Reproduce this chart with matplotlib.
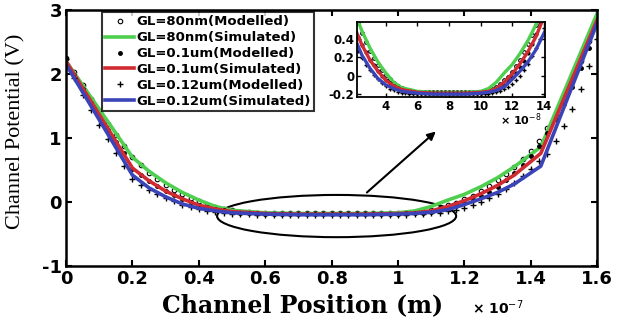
''' CHANNEL POTENTIAL vs CHANNEL POSITION '''

import numpy as np
import matplotlib
matplotlib.use("Agg")
import matplotlib.pyplot as plt
from matplotlib.patches import Ellipse
from matplotlib.font_manager import FontProperties

plt.rcParams['axes.unicode_minus'] = False

# simulated curves (x in 1e-7 m)
x_sim = [0, 0.2, 0.25, 0.3, 0.35, 0.4, 0.45, 0.5, 0.6, 0.7, 0.8, 0.9,
         1.0, 1.05, 1.1, 1.15, 1.2, 1.25, 1.3, 1.35, 1.43, 1.6]
sim_80nm = [2.2, 0.70, 0.48, 0.30, 0.15, 0.03, -0.07, -0.13, -0.17, -0.18, -0.18, -0.18,
            -0.17, -0.14, -0.07, 0.03, 0.12, 0.24, 0.38, 0.55, 0.86, 2.95]
sim_100nm = [2.2, 0.53, 0.33, 0.17, 0.05, -0.05, -0.11, -0.15, -0.18, -0.19, -0.19, -0.19,
             -0.18, -0.17, -0.14, -0.07, 0.02, 0.13, 0.26, 0.42, 0.76, 2.85]
sim_120nm = [2.15, 0.42, 0.22, 0.08, -0.03, -0.10, -0.14, -0.17, -0.19, -0.20, -0.20, -0.20,
             -0.19, -0.18, -0.16, -0.12, -0.04, 0.05, 0.15, 0.28, 0.56, 2.8]

# modelled curves, sampled every 0.025e-7 m
x_mod = np.linspace(0, 1.6, 65)
mod_80nm = ([2.25, 2.03, 1.82, 1.61, 1.41, 1.22, 1.04, 0.87, 0.70, 0.57, 0.46, 0.36, 0.27,
             0.19, 0.12, 0.06, 0.01, -0.04, -0.08, -0.11, -0.13, -0.15, -0.16, -0.17, -0.175]
            + [-0.18] * 15
            + [-0.175, -0.17, -0.16, -0.145, -0.12, -0.09, -0.05, -0.01, 0.04, 0.10, 0.17, 0.25,
               0.34, 0.44, 0.55, 0.67, 0.80, 0.96, 1.15, 1.37, 1.62, 1.90, 2.20, 2.52, 2.88])
mod_100nm = ([2.24, 1.99, 1.76, 1.54, 1.33, 1.13, 0.94, 0.76, 0.52, 0.42, 0.33, 0.25, 0.17,
              0.11, 0.05, 0.0, -0.05, -0.08, -0.11, -0.13, -0.15, -0.165, -0.175, -0.18, -0.185]
             + [-0.19] * 15
             + [-0.185, -0.18, -0.175, -0.165, -0.15, -0.13, -0.10, -0.06, -0.02, 0.03, 0.09,
                0.16, 0.24, 0.34, 0.45, 0.58, 0.72, 0.88, 1.07, 1.29, 1.53, 1.80, 2.09, 2.40, 2.78])
mod_120nm = ([2.23, 1.94, 1.67, 1.43, 1.20, 0.98, 0.76, 0.56, 0.36, 0.27, 0.19, 0.12, 0.06,
              0.01, -0.04, -0.08, -0.11, -0.14, -0.16, -0.175, -0.185, -0.19, -0.195, -0.20, -0.20]
             + [-0.20] * 15
             + [-0.20, -0.20, -0.195, -0.19, -0.18, -0.165, -0.145, -0.12, -0.09, -0.05, 0.0,
                0.06, 0.13, 0.21, 0.30, 0.40, 0.51, 0.64, 0.75, 0.95, 1.18, 1.45, 1.76, 2.12, 2.55])

labels = ['GL=80nm(Modelled)', 'GL=80nm(Simulated)', 'GL=0.1um(Modelled)',
          'GL=0.1um(Simulated)', 'GL=0.12um(Modelled)', 'GL=0.12um(Simulated)']

GREEN = '#4fcf4f'
RED = '#d02a32'
BLUE = '#3a44b8'

tickfont = dict(family='DejaVu Sans', weight='bold')


def draw(ax, scale, lw, ms):
    xs = np.array(x_sim) * scale
    xm = x_mod * scale
    ax.plot(xm, mod_80nm, 'o', mfc='none', mec='k', ms=ms * 0.65, mew=0.8, label=labels[0])
    ax.plot(xs, sim_80nm, '-', color=GREEN, lw=lw, label=labels[1])
    ax.plot(xm, mod_100nm, '.', color='k', ms=ms, label=labels[2])
    ax.plot(xs, sim_100nm, '-', color=RED, lw=lw, label=labels[3])
    ax.plot(xm, mod_120nm, '+', color='k', ms=ms * 0.8, mew=1.0, label=labels[4])
    ax.plot(xs, sim_120nm, '-', color=BLUE, lw=lw, label=labels[5])


fig = plt.figure(figsize=(6.17, 3.22), dpi=100)
ax = fig.add_axes([0.107, 0.174, 0.861, 0.795])
draw(ax, 1.0, 2.6, 5)
ax.set_xlim(0, 1.6)
ax.set_ylim(-1, 3)
ax.set_xticks([0, 0.2, 0.4, 0.6, 0.8, 1.0, 1.2, 1.4, 1.6])
ax.set_xticklabels(['0', '0.2', '0.4', '0.6', '0.8', '1', '1.2', '1.4', '1.6'])
ax.set_yticks([-1, 0, 1, 2, 3])
ax.tick_params(direction='in', top=True, right=True, length=4, width=1.5, pad=3)
for lab in ax.get_xticklabels() + ax.get_yticklabels():
    lab.set_fontproperties(FontProperties(size=13, **tickfont))
for s in ax.spines.values():
    s.set_linewidth(1.8)

ax.set_xlabel('Channel Position (m)', family='DejaVu Serif', weight='bold',
              fontsize=17, labelpad=1)
ax.xaxis.set_label_coords(0.446, -0.105)
ax.set_ylabel('Channel Potential (V)', family='Liberation Serif', fontsize=16, labelpad=4)
ax.yaxis.set_label_coords(-0.077, 0.525)
fig.text(0.765, 0.025, r'$\mathbf{\times}$ 10$^{-7}$', fontsize=10, family='DejaVu Sans',
         weight='bold', ha='left', va='baseline')

leg = ax.legend(loc='upper left', bbox_to_anchor=(0.068, 0.992), frameon=True,
                prop=dict(family='DejaVu Sans', weight='bold', size=9.5),
                handlelength=2.2, handletextpad=0.15, labelspacing=0.22,
                borderpad=0.25, borderaxespad=0, fancybox=False)
leg.get_frame().set_edgecolor('k')
leg.get_frame().set_linewidth(1.5)

ax.add_patch(Ellipse((0.815, -0.22), 0.72, 0.66, fill=False, ec='k', lw=1.5))
ax.annotate('', xy=(1.12, 1.13), xytext=(0.9, 0.12),
            arrowprops=dict(arrowstyle='-|>', color='k', lw=1.5, mutation_scale=12))

# zoomed inset (x in 1e-8 m)
ins = fig.add_axes([0.579, 0.699, 0.305, 0.233])
draw(ins, 10.0, 2.4, 4)
ins.set_xlim(2.2, 14.1)
ins.set_ylim(-0.23, 0.58)
ins.set_xticks([4, 6, 8, 10, 12, 14])
ins.set_yticks([-0.2, 0, 0.2, 0.4])
ins.set_yticklabels(['-0.2', '0', '0.2', '0.4'])
ins.tick_params(direction='in', top=True, right=True, length=3, width=1.0, pad=2)
for lab in ins.get_xticklabels() + ins.get_yticklabels():
    lab.set_fontproperties(FontProperties(size=8.5, **tickfont))
for s in ins.spines.values():
    s.set_linewidth(1.3)
fig.text(0.81, 0.612, r'$\mathbf{\times}$ 10$^{-8}$', fontsize=8, family='DejaVu Sans',
         weight='bold', ha='left', va='baseline')

fig.savefig('out.png', dpi=100)
